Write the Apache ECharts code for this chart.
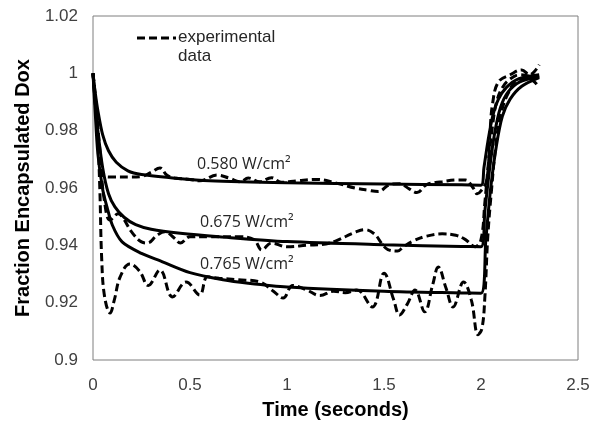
<!DOCTYPE html>
<html>
<head>
<meta charset="utf-8">
<script src="https://cdn.jsdelivr.net/npm/echarts@6/dist/echarts.min.js"></script>
<style>
  html, body { margin: 0; padding: 0; background: #fff; }
  #chart { width: 609px; height: 431px; }
</style>
</head>
<body>
<div id="chart"></div>
<script>
// model fits (solid), [time s, fraction]
const fit580 = [
  [0, 1.0], [0.01, 0.994], [0.025, 0.987], [0.05, 0.9785], [0.08, 0.973], [0.12, 0.969],
  [0.18, 0.966], [0.25, 0.9647], [0.4, 0.9636], [0.6, 0.9625], [1.0, 0.9618], [1.5, 0.9614],
  [1.9, 0.9611], [2.0, 0.961], [2.015, 0.967], [2.035, 0.976], [2.06, 0.985], [2.09, 0.991],
  [2.13, 0.995], [2.19, 0.998], [2.3, 0.9995]
];
const fit675 = [
  [0, 1.0], [0.01, 0.991], [0.025, 0.98], [0.05, 0.967], [0.08, 0.958], [0.113, 0.9534],
  [0.16, 0.9498], [0.22, 0.9472], [0.3, 0.9456], [0.45, 0.9442], [0.65, 0.943], [1.0, 0.9413],
  [1.5, 0.9402], [1.9, 0.9396], [2.0, 0.9395], [2.02, 0.952], [2.045, 0.967], [2.07, 0.979],
  [2.1, 0.988], [2.14, 0.9935], [2.2, 0.997], [2.3, 0.999]
];
const fit765 = [
  [0, 1.0], [0.01, 0.988], [0.025, 0.972], [0.05, 0.9595], [0.072, 0.9534], [0.1, 0.947],
  [0.15, 0.9412], [0.25, 0.9372], [0.35, 0.9345], [0.5, 0.9305], [0.67, 0.928], [0.8, 0.9268],
  [1.0, 0.9255], [1.5, 0.924], [1.9, 0.9234], [2.0, 0.9233], [2.025, 0.942], [2.05, 0.96],
  [2.08, 0.975], [2.11, 0.985], [2.15, 0.991], [2.21, 0.9955], [2.3, 0.9985]
];

// experimental data (dashed)
const exp580 = [
  [0, 1.0], [0.02, 0.985], [0.04, 0.97], [0.05, 0.9645], [0.1, 0.9638], [0.2, 0.9638],
  [0.25, 0.964], [0.3, 0.9655], [0.345, 0.967], [0.38, 0.9645], [0.42, 0.9635], [0.5, 0.963],
  [0.55, 0.9625], [0.64, 0.9645], [0.7, 0.9635], [0.76, 0.9622], [0.8, 0.9635], [0.86, 0.9622],
  [0.92, 0.9636], [0.97, 0.962], [1.05, 0.9625], [1.15, 0.963], [1.25, 0.9618], [1.35, 0.96],
  [1.42, 0.9592], [1.47, 0.9588], [1.53, 0.9612], [1.58, 0.9615], [1.63, 0.9597], [1.67, 0.9584],
  [1.72, 0.9612], [1.8, 0.9622], [1.88, 0.9628], [1.92, 0.9628], [1.96, 0.96], [1.98, 0.958],
  [2.0, 0.959], [2.03, 0.9628], [2.046, 0.979], [2.06, 0.9896], [2.09, 0.997], [2.15, 0.9995],
  [2.21, 1.0012], [2.25, 0.9995], [2.28, 1.001], [2.3, 1.003]
];
const exp675 = [
  [0, 1.0], [0.03, 0.975], [0.06, 0.955], [0.088, 0.9488], [0.13, 0.951], [0.155, 0.9495],
  [0.2, 0.9446], [0.25, 0.9412], [0.28, 0.9408], [0.33, 0.9435], [0.37, 0.9447], [0.42, 0.9425],
  [0.45, 0.9408], [0.5, 0.943], [0.6, 0.943], [0.75, 0.943], [0.83, 0.942], [0.87, 0.9384],
  [0.92, 0.9408], [1.0, 0.9395], [1.1, 0.94], [1.2, 0.9405], [1.25, 0.9415], [1.35, 0.9445],
  [1.4, 0.9455], [1.45, 0.944], [1.49, 0.9405], [1.52, 0.9385], [1.57, 0.938], [1.6, 0.9395],
  [1.65, 0.9415], [1.72, 0.9432], [1.8, 0.944], [1.87, 0.9435], [1.92, 0.942], [1.97, 0.9395],
  [2.0, 0.942], [2.02, 0.955], [2.04, 0.97], [2.06, 0.982], [2.08, 0.99], [2.11, 0.995],
  [2.15, 0.998], [2.2, 0.9995], [2.25, 0.999], [2.3, 0.9985]
];
const exp765 = [
  [0, 1.0], [0.02, 0.985], [0.035, 0.96], [0.045, 0.935], [0.06, 0.922], [0.088, 0.9164],
  [0.11, 0.921], [0.14, 0.929], [0.19, 0.9335], [0.24, 0.931], [0.285, 0.926], [0.345, 0.9314],
  [0.41, 0.922], [0.48, 0.9272], [0.55, 0.9227], [0.59, 0.929], [0.65, 0.9285], [0.75, 0.928],
  [0.86, 0.9272], [0.93, 0.924], [0.98, 0.9216], [1.03, 0.926], [1.1, 0.9245], [1.17, 0.9225],
  [1.24, 0.924], [1.3, 0.9235], [1.36, 0.9244], [1.44, 0.9185], [1.5, 0.9303], [1.55, 0.921],
  [1.58, 0.9157], [1.62, 0.9195], [1.66, 0.9244], [1.71, 0.9168], [1.75, 0.926], [1.78, 0.9324],
  [1.82, 0.925], [1.856, 0.9185], [1.91, 0.9272], [1.95, 0.921], [1.985, 0.9088], [2.005, 0.911],
  [2.02, 0.922], [2.035, 0.943], [2.055, 0.96], [2.075, 0.974], [2.1, 0.985], [2.14, 0.993],
  [2.2, 0.998], [2.25, 0.998], [2.3, 0.995]
];

const curveLabels = ['0.580 W/cm²', '0.675 W/cm²', '0.765 W/cm²'];

const font = '"Liberation Sans", Arial, sans-serif';
const labelFont = '16px "Open Sans", sans-serif';

const solid = (name, data) => ({
  name,
  type: 'line',
  data,
  showSymbol: false,
  smooth: 0.3,
  lineStyle: { color: '#000', width: 3 },
  z: 3,
});
const dashed = (name, data) => ({
  name,
  type: 'line',
  data,
  showSymbol: false,
  smooth: 0.4,
  lineStyle: { color: '#000', width: 3, type: [8, 4] },
  z: 2,
});

const chart = echarts.init(document.getElementById('chart'));
chart.setOption({
  animation: false,
  backgroundColor: '#fff',
  grid: {
    left: 93, right: 31, top: 16, bottom: 71,
    show: true, borderColor: '#7f7f7f', borderWidth: 1,
  },
  xAxis: {
    type: 'value',
    min: 0, max: 2.5, interval: 0.5,
    axisLine: { show: false },
    axisTick: { show: false },
    splitLine: { show: false },
    axisLabel: { color: '#404040', fontSize: 17, fontFamily: font, margin: 17 },
    name: 'Time (seconds)',
    nameLocation: 'middle',
    nameGap: 40,
    nameTextStyle: { color: '#000', fontSize: 20, fontWeight: 'bold', fontFamily: font },
  },
  yAxis: {
    type: 'value',
    min: 0.9, max: 1.02, interval: 0.02,
    axisLine: { show: false },
    axisTick: { show: false },
    splitLine: { show: false },
    axisLabel: {
      color: '#404040', fontSize: 17, fontFamily: font, margin: 15,
      formatter: (v) => String(+v.toFixed(2)),
    },
    name: 'Fraction Encapsulated Dox',
    nameLocation: 'middle',
    nameGap: 60,
    nameTextStyle: { color: '#000', fontSize: 20, fontWeight: 'bold', fontFamily: font },
  },
  graphic: [
    { type: 'line', shape: { x1: 137, y1: 38, x2: 176, y2: 38 },
      style: { stroke: '#000', lineWidth: 3, lineDash: [8, 4] } },
    { type: 'text', left: 178, top: 28,
      style: { text: 'experimental\ndata', font: '17px ' + font, fill: '#262626', lineHeight: 19 } },
    { type: 'text', left: 197, top: 156,
      style: { text: curveLabels[0], font: labelFont, fill: '#262626' } },
    { type: 'text', left: 200, top: 214,
      style: { text: curveLabels[1], font: labelFont, fill: '#262626' } },
    { type: 'text', left: 200, top: 256,
      style: { text: curveLabels[2], font: labelFont, fill: '#262626' } },
  ],
  series: [
    dashed('exp 0.580', exp580),
    dashed('exp 0.675', exp675),
    dashed('exp 0.765', exp765),
    solid('fit 0.580', fit580),
    solid('fit 0.675', fit675),
    solid('fit 0.765', fit765),
  ],
});
</script>
</body>
</html>
